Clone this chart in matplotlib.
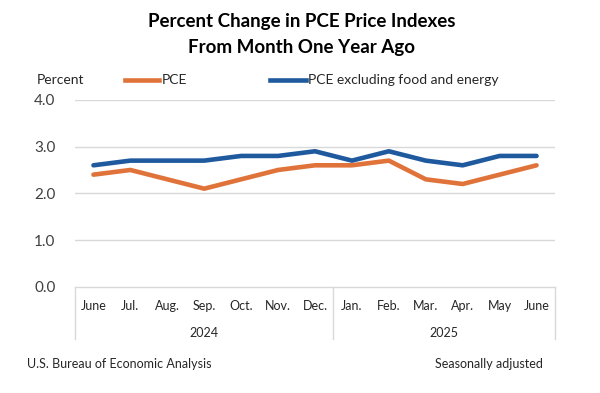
import numpy as np
import matplotlib
matplotlib.use('Agg')
import matplotlib.pyplot as plt
import matplotlib.transforms as mtrans

# data
months = ['June', 'Jul.', 'Aug.', 'Sep.', 'Oct.', 'Nov.', 'Dec.',
          'Jan.', 'Feb.', 'Mar.', 'Apr.', 'May', 'June']
years = ['2024', '2025']
year_spans = [(0, 6), (7, 12)]
pce = [2.4, 2.5, 2.3, 2.1, 2.3, 2.5, 2.6, 2.6, 2.7, 2.3, 2.2, 2.4, 2.6]
core = [2.6, 2.7, 2.7, 2.7, 2.8, 2.8, 2.9, 2.7, 2.9, 2.7, 2.6, 2.8, 2.8]
yticks = [0.0, 1.0, 2.0, 3.0, 4.0]

plt.rcParams['font.family'] = ['Lato', 'DejaVu Sans']

orange = '#E0733A'
blue = '#1F5A9E'
grid = '#D9D9D9'
txt = '#262626'

fig = plt.figure(figsize=(6, 3.93), dpi=100)
ax = fig.add_axes([0.125, 0.27, 0.80, 0.476])

x = np.arange(len(months))
ax.plot(x, pce, color=orange, lw=3.3, solid_capstyle='round', solid_joinstyle='round')
ax.plot(x, core, color=blue, lw=3.3, solid_capstyle='round', solid_joinstyle='round')

ax.set_xlim(-0.5, len(months) - 0.5)
ax.set_ylim(0, 4)
ax.set_yticks(yticks)
ax.set_yticklabels(['%.1f' % v for v in yticks], fontsize=11, color='#404040')
for v in yticks[1:]:
    ax.axhline(v, color=grid, lw=1, zorder=0)
for s in ax.spines.values():
    s.set_visible(False)
ax.tick_params(axis='y', length=0, pad=14)
ax.tick_params(axis='x', length=0)
ax.set_xticks([])

# category axis box under the plot
tr = mtrans.blended_transform_factory(ax.transData, ax.transAxes)
ax.plot([-0.5, len(months) - 0.5], [0, 0], color=grid, lw=1, transform=tr, clip_on=False)
for xs in [-0.5, 6.5, len(months) - 0.5]:
    ax.plot([xs, xs], [0, -0.28], color=grid, lw=1, transform=tr, clip_on=False)
for i, m in enumerate(months):
    ax.text(i, -0.1, m, transform=tr, ha='center', va='center', fontsize=9, color=txt)
for yr, (a, b) in zip(years, year_spans):
    ax.text((a + b) / 2, -0.245, yr, transform=tr, ha='center', va='center', fontsize=9, color=txt)

# title, legend, notes
fig.text(0.503, 0.945, 'Percent Change in PCE Price Indexes', ha='center', va='center',
         fontsize=13.5, fontweight='bold')
fig.text(0.503, 0.88, 'From Month One Year Ago', ha='center', va='center',
         fontsize=13.5, fontweight='bold')
fig.text(0.062, 0.797, 'Percent', ha='left', va='center', fontsize=10, color=txt)
fig.add_artist(plt.Line2D([0.208, 0.265], [0.797, 0.797], color=orange, lw=3.3))
fig.text(0.270, 0.797, 'PCE', ha='left', va='center', fontsize=10, color=txt)
fig.add_artist(plt.Line2D([0.45, 0.51], [0.797, 0.797], color=blue, lw=3.3))
fig.text(0.514, 0.797, 'PCE excluding food and energy', ha='left', va='center', fontsize=10, color=txt)
fig.text(0.045, 0.075, 'U.S. Bureau of Economic Analysis', ha='left', va='center', fontsize=9, color=txt)
fig.text(0.905, 0.075, 'Seasonally adjusted', ha='right', va='center', fontsize=9, color=txt)

fig.savefig('out.png', dpi=100)
